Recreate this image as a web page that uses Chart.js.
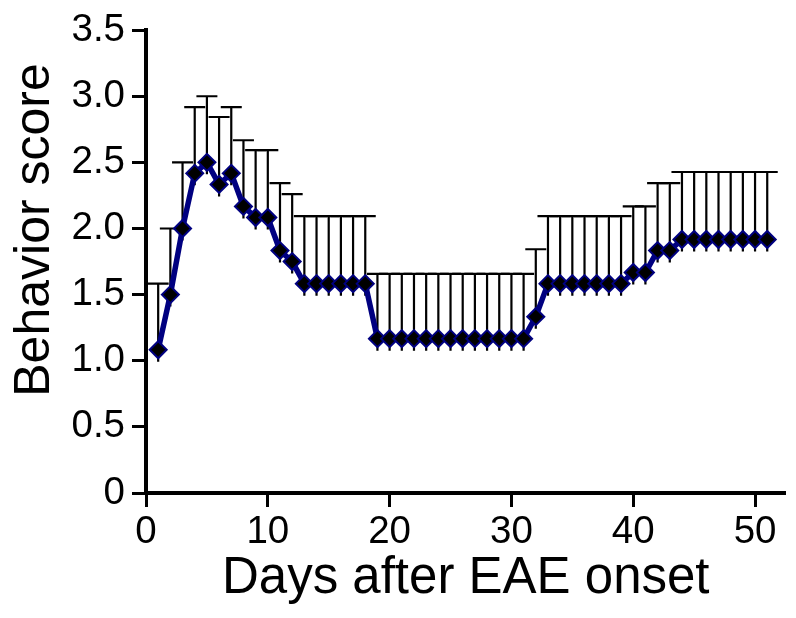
<!DOCTYPE html>
<html><head><meta charset="utf-8">
<script src="https://cdn.jsdelivr.net/npm/chart.js@4"></script>
<style>html,body{margin:0;padding:0;background:#fff;}canvas{display:block;}</style>
</head><body>
<canvas id="c" width="796" height="618"></canvas>
<script>
const days = [1,2,3,4,5,6,7,8,9,10,11,12,13,14,15,16,17,18,19,20,21,22,23,24,25,26,27,28,29,30,31,32,33,34,35,36,37,38,39,40,41,42,43,44,45,46,47,48,49,50,51];
const meanScores = [1.083,1.5,2.0,2.417,2.5,2.333,2.417,2.167,2.083,2.083,1.833,1.75,
  1.583,1.583,1.583,1.583,1.583,1.583,
  1.167,1.167,1.167,1.167,1.167,1.167,1.167,1.167,1.167,1.167,1.167,1.167,1.167,
  1.333,
  1.583,1.583,1.583,1.583,1.583,1.583,1.583,
  1.667,1.667,
  1.833,1.833,
  1.917,1.917,1.917,1.917,1.917,1.917,1.917,1.917];
const semScores = [0.50,0.50,0.50,0.50,0.50,0.51,0.50,0.50,0.51,0.51,0.51,0.51,
  0.51,0.51,0.51,0.51,0.51,0.51,
  0.49,0.49,0.49,0.49,0.49,0.49,0.49,0.49,0.49,0.49,0.49,0.49,0.49,
  0.51,
  0.51,0.51,0.51,0.51,0.51,0.51,0.51,
  0.50,0.50,
  0.51,0.51,
  0.51,0.51,0.51,0.51,0.51,0.51,0.51,0.51];
const xTickValues = [0,10,20,30,40,50];
const yTickValues = [0,0.5,1.0,1.5,2.0,2.5,3.0,3.5];
const yTickLabels = ['0','0.5','1.0','1.5','2.0','2.5','3.0','3.5'];
const xTitle = 'Days after EAE onset';
const yTitle = 'Behavior score';

const FONT = "'Liberation Sans', Arial, sans-serif";

const errorBars = {
  id: 'errorBars',
  beforeDatasetsDraw(chart) {
    const ctx = chart.ctx, xs = chart.scales.x, ys = chart.scales.y;
    ctx.save();
    ctx.strokeStyle = '#000';
    ctx.lineWidth = 2.2;
    for (let i = 0; i < days.length; i++) {
      const px = xs.getPixelForValue(days[i]);
      const py = ys.getPixelForValue(meanScores[i]);
      const pt = ys.getPixelForValue(meanScores[i] + semScores[i]);
      ctx.beginPath();
      ctx.moveTo(px, py + 12);
      ctx.lineTo(px, pt);
      ctx.moveTo(px - 10.5, pt);
      ctx.lineTo(px + 10.5, pt);
      ctx.stroke();
    }
    ctx.restore();
  }
};

const yTitlePlugin = {
  id: 'yTitle',
  afterDraw(chart) {
    const ctx = chart.ctx;
    ctx.save();
    ctx.translate(35, 230);
    ctx.rotate(-Math.PI / 2);
    ctx.font = "50px " + FONT;
    ctx.fillStyle = '#000';
    ctx.textAlign = 'center';
    ctx.textBaseline = 'middle';
    ctx.fillText(yTitle, 0, 0);
    ctx.restore();
  }
};

new Chart(document.getElementById('c'), {
  type: 'line',
  data: {
    datasets: [{
      data: days.map((d, i) => ({x: d, y: meanScores[i]})),
      borderColor: '#000080',
      borderWidth: 5.5,
      pointStyle: 'rectRot',
      pointRadius: 8.5,
      pointBackgroundColor: '#000',
      pointBorderColor: '#000080',
      pointBorderWidth: 2,
      tension: 0,
      clip: false
    }]
  },
  options: {
    responsive: false,
    animation: false,
    devicePixelRatio: 1,
    layout: {padding: {top: 26, right: 0, bottom: 0, left: 0}},
    plugins: {legend: {display: false}, tooltip: {enabled: false}},
    scales: {
      x: {
        type: 'linear', min: 0, max: 52.5,
        afterBuildTicks: s => { s.ticks = xTickValues.map(v => ({value: v})); },
        afterFit: s => { s.height = 125; },
        grid: {drawOnChartArea: false, drawTicks: true, tickLength: 14, tickWidth: 3, tickColor: '#000'},
        border: {display: true, color: '#000', width: 4},
        ticks: {color: '#000', font: {family: FONT, size: 38.5}, padding: 2, maxRotation: 0, autoSkip: false},
        title: {display: true, text: xTitle, color: '#000', font: {family: FONT, size: 51}, padding: {top: 0, bottom: 8}}
      },
      y: {
        type: 'linear', min: 0, max: 3.5,
        afterBuildTicks: s => { s.ticks = yTickValues.map(v => ({value: v})); },
        afterFit: s => { s.width = 146; },
        grid: {drawOnChartArea: false, drawTicks: true, tickLength: 14, tickWidth: 3, tickColor: '#000'},
        border: {display: true, color: '#000', width: 4},
        ticks: {color: '#000', font: {family: FONT, size: 38.5}, padding: 7, autoSkip: false,
          callback: (v, i) => yTickLabels[i]}
      }
    }
  },
  plugins: [errorBars, yTitlePlugin]
});
</script>
</body></html>
